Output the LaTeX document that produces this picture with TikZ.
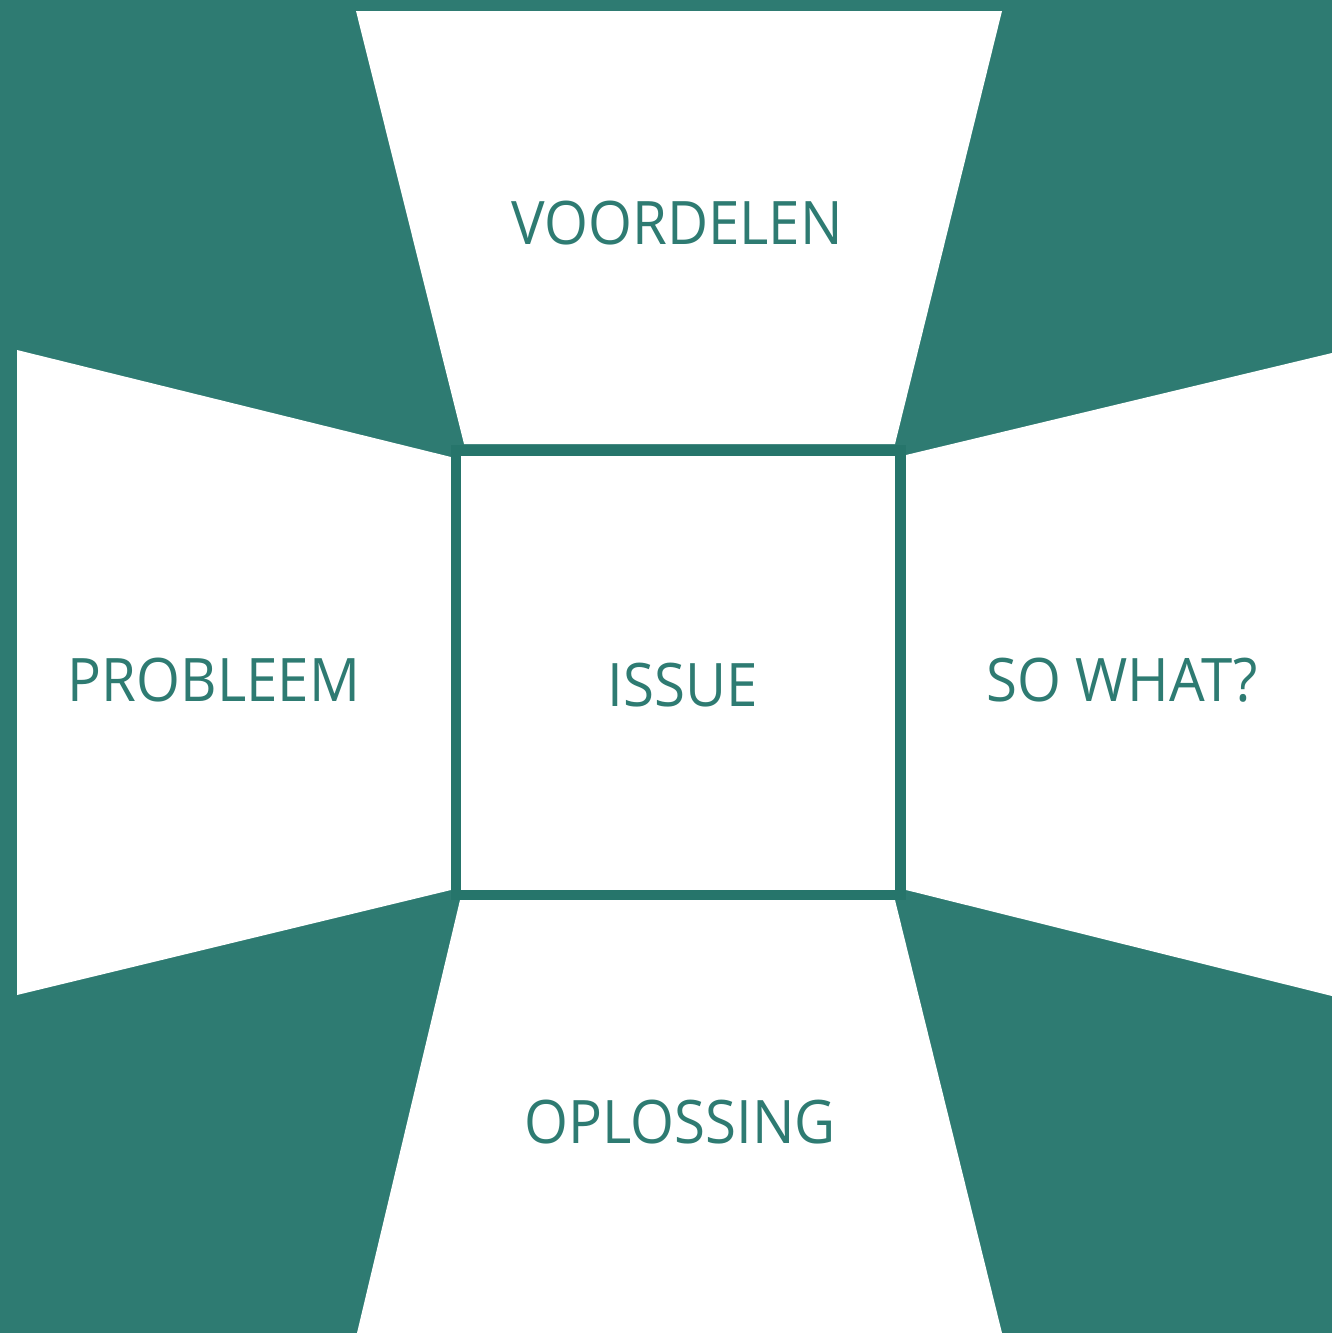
\documentclass[tikz,border=0pt]{standalone}
\usepackage{fontspec}
\setmainfont{Open Sans}[FakeStretch=0.94]
\usepackage{tikz}
\usetikzlibrary{positioning}
\definecolor{Zeegroen}{RGB}{46,123,114}
\definecolor{Zeerand}{RGB}{38,117,107}

\begin{document}
\begin{tikzpicture}[x=1pt,y=-1pt,
  vlak/.style={fill=white,draw=none},
  woord/.style={anchor=base,inner sep=0pt,text=Zeegroen,font=\fontsize{60}{60}\selectfont}]
\useasboundingbox (0,0) rectangle (1332,1333);
\fill[Zeegroen] (0,0) rectangle (1332,1333);
%
% de vier vlakken
\fill[vlak] (356,11) -- (1002,11) -- (895,444) -- (464,444) -- cycle;
\fill[vlak] (17,350) -- (451,457) -- (451,890) -- (17,995) -- cycle;
\fill[vlak] (906,455) -- (1332,353) -- (1332,996) -- (906,890) -- cycle;
\fill[vlak] (460,900) -- (895,900) -- (1002,1333) -- (357,1333) -- cycle;
%
% het midden
\draw[Zeerand,line width=10.5pt,fill=white] (456,450.5) rectangle (900.5,895);
%
\node[woord] (voordelen) at (677,244) {VOORDELEN};
\node[woord] (probleem) at (214,701) {PROBLEEM};
\node[woord] (issue) at (683,706) {ISSUE};
\node[woord] (sowhat) at (1122,701) {SO WHAT?};
\node[woord] (oplossing) at (680,1143) {OPLOSSING};
%
\end{tikzpicture}
\end{document}
